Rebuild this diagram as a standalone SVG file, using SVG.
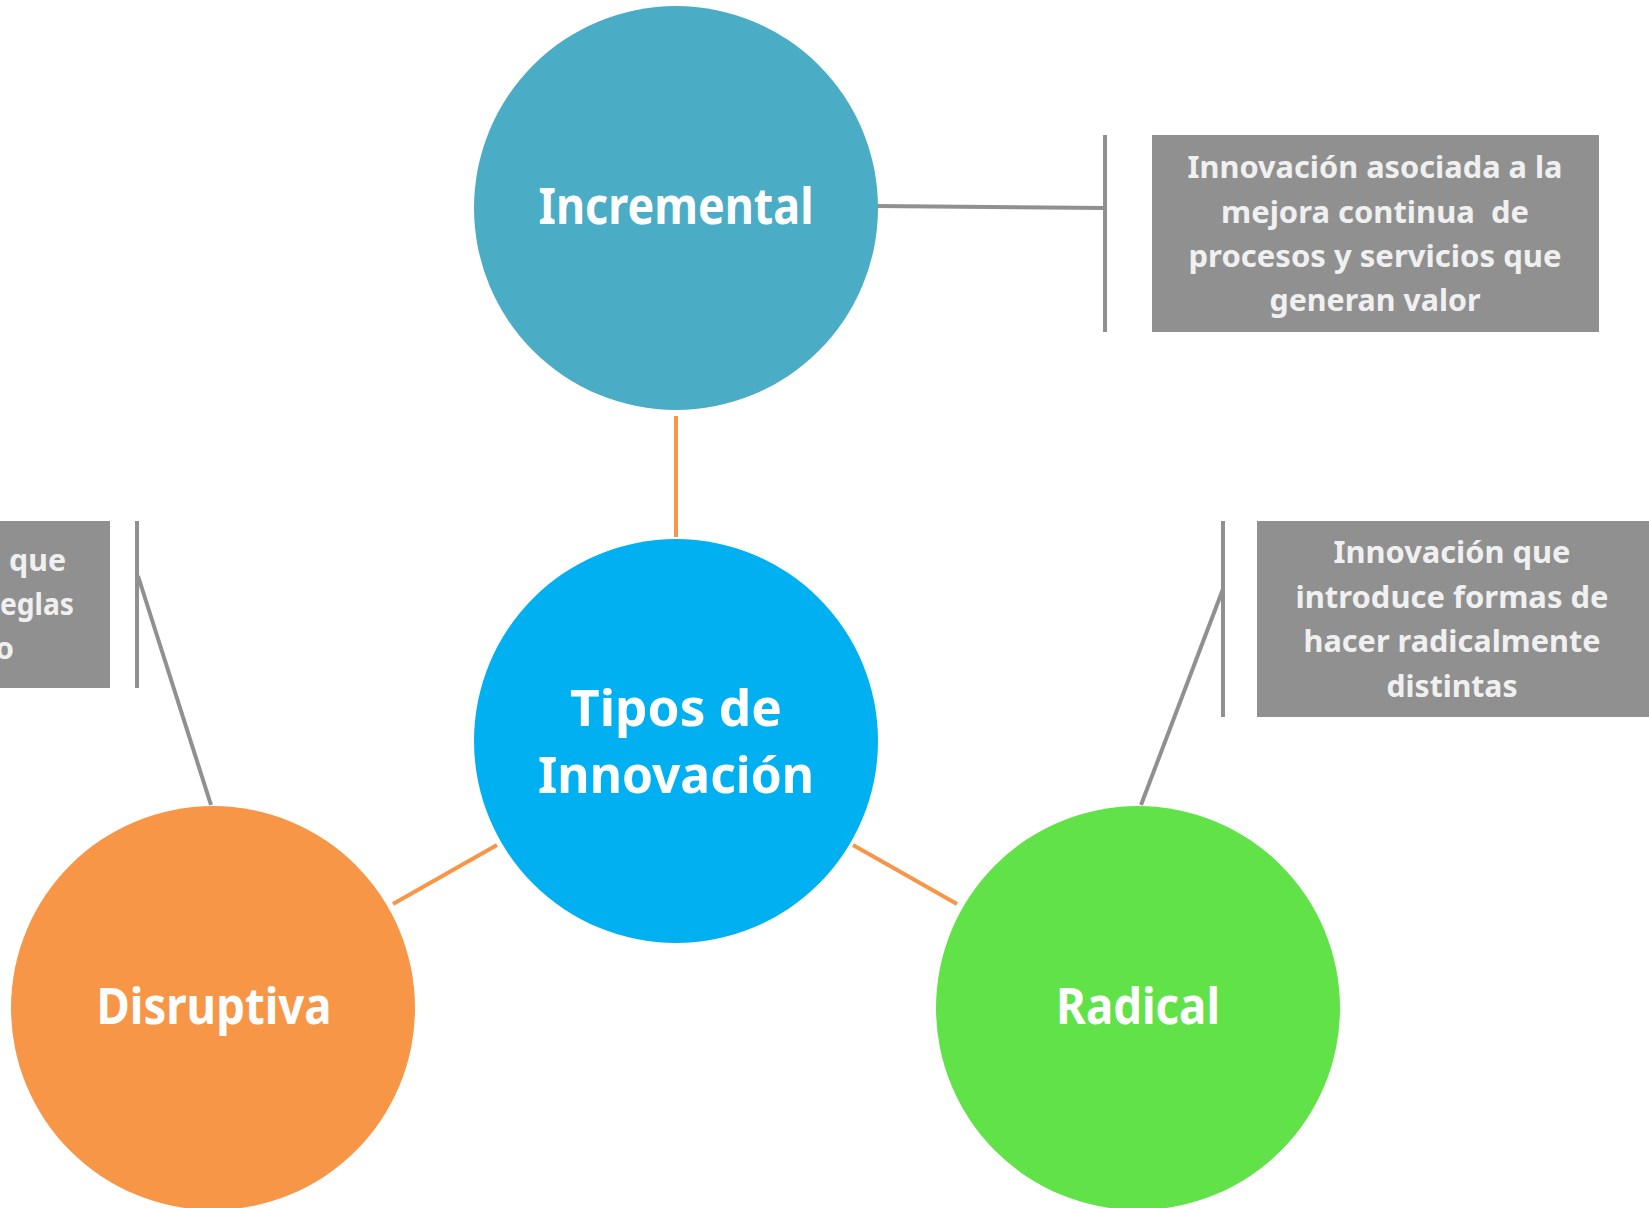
<svg xmlns="http://www.w3.org/2000/svg" width="1649" height="1208" viewBox="0 0 1649 1208">
<style>
.lbl{font-family:"Noto Sans","Liberation Sans",sans-serif;font-weight:bold;fill:#ffffff;text-anchor:middle;font-size:50px}
.desc{font-family:"Noto Sans","Liberation Sans",sans-serif;font-weight:bold;fill:#f0f0f0;text-anchor:middle;font-size:30px}
.box{fill:#909090}
.gray{stroke:#909090;stroke-width:4;fill:none}
.orange{stroke:#f79646;stroke-width:4;fill:none}
</style>
<rect width="1649" height="1208" fill="#ffffff"/>
<g id="connectors">
<line class="orange" x1="676" y1="416" x2="676" y2="537"/>
<line class="orange" x1="497" y1="845" x2="393" y2="904"/>
<line class="orange" x1="853" y1="845" x2="957" y2="904"/>
<line class="gray" x1="876" y1="206" x2="1105" y2="208"/>
<line class="gray" x1="1105" y1="135" x2="1105" y2="332"/>
<line class="gray" x1="137" y1="521" x2="137" y2="688"/>
<line class="gray" x1="138" y1="576" x2="211" y2="805"/>
<line class="gray" x1="1223" y1="521" x2="1223" y2="717"/>
<line class="gray" x1="1223" y1="589" x2="1141" y2="805"/>
</g>
<g id="node-incremental">
<circle cx="676" cy="208" r="202" fill="#4bacc6"/>
<text class="lbl" x="676" y="224" textLength="275" lengthAdjust="spacingAndGlyphs">Incremental</text>
</g>
<g id="node-central">
<circle cx="676" cy="741" r="202" fill="#00b0f0"/>
<text class="lbl" x="676" y="726" textLength="212" lengthAdjust="spacingAndGlyphs">Tipos de</text>
<text class="lbl" x="676" y="793" textLength="276" lengthAdjust="spacingAndGlyphs">Innovación</text>
</g>
<g id="node-disruptiva">
<circle cx="213" cy="1008" r="202" fill="#f79646"/>
<text class="lbl" x="214" y="1024" textLength="235" lengthAdjust="spacingAndGlyphs">Disruptiva</text>
</g>
<g id="node-radical">
<circle cx="1138" cy="1008" r="202" fill="#62e249"/>
<text class="lbl" x="1138" y="1024" textLength="164" lengthAdjust="spacingAndGlyphs">Radical</text>
</g>
<g id="desc-incremental">
<rect class="box" x="1152" y="135" width="447" height="197"/>
<text class="desc" x="1375" y="178" textLength="375" lengthAdjust="spacingAndGlyphs">Innovación asociada a la</text>
<text class="desc" x="1375" y="223" textLength="308" lengthAdjust="spacingAndGlyphs" xml:space="preserve">mejora continua  de</text>
<text class="desc" x="1375" y="267" textLength="373" lengthAdjust="spacingAndGlyphs">procesos y servicios que</text>
<text class="desc" x="1375" y="311" textLength="211" lengthAdjust="spacingAndGlyphs">generan valor</text>
</g>
<g id="desc-radical">
<rect class="box" x="1257" y="521" width="392" height="196"/>
<text class="desc" x="1452" y="563" textLength="237" lengthAdjust="spacingAndGlyphs">Innovación que</text>
<text class="desc" x="1452" y="608" textLength="313" lengthAdjust="spacingAndGlyphs">introduce formas de</text>
<text class="desc" x="1452" y="652" textLength="297" lengthAdjust="spacingAndGlyphs">hacer radicalmente</text>
<text class="desc" x="1452" y="697" textLength="131" lengthAdjust="spacingAndGlyphs">distintas</text>
</g>
<g id="desc-disruptiva">
<rect class="box" x="0" y="521" width="110" height="167"/>
<text class="desc" x="66" y="571" style="text-anchor:end" textLength="57" lengthAdjust="spacingAndGlyphs">que</text>
<text class="desc" x="74" y="615" style="text-anchor:end" textLength="74" lengthAdjust="spacingAndGlyphs">eglas</text>
<text class="desc" x="14" y="659" style="text-anchor:end">o</text>
</g>
</svg>
